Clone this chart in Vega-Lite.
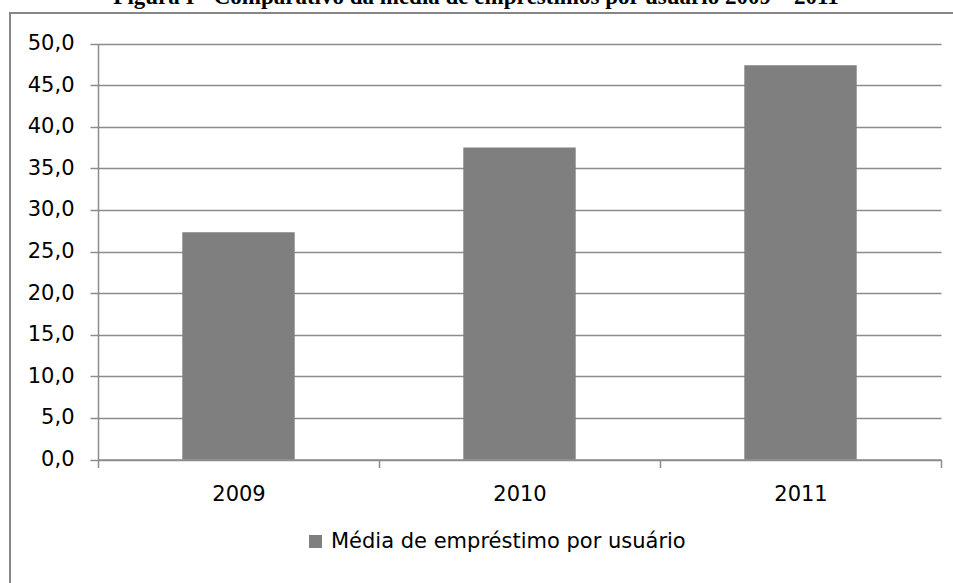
{
  "$schema": "https://vega.github.io/schema/vega-lite/v6.json",
  "autosize": "none",
  "padding": {"left": 10, "top": 13, "right": -3, "bottom": -3},
  "width": 946,
  "height": 573,
  "background": "white",
  "title": {
    "text": "Figura I - Comparativo da média de empréstimos por usuário 2009 – 2011",
    "font": "Liberation Serif",
    "fontSize": 23,
    "fontWeight": "bold",
    "color": "#000000",
    "anchor": "middle",
    "frame": "group",
    "baseline": "alphabetic",
    "offset": 3,
    "dx": -7,
    "dy": 17
  },
  "data": {
    "values": [
      {"ano": "2009", "media": 27.3, "serie": "Média de empréstimo por usuário"},
      {"ano": "2010", "media": 37.5, "serie": "Média de empréstimo por usuário"},
      {"ano": "2011", "media": 47.4, "serie": "Média de empréstimo por usuário"}
    ]
  },
  "mark": {"type": "bar", "width": {"band": 0.4}},
  "encoding": {
    "x": {
      "field": "ano",
      "type": "nominal",
      "scale": {"range": [88, 931], "paddingInner": 0, "paddingOuter": 0},
      "axis": {
        "title": null,
        "orient": "bottom",
        "offset": -126.5,
        "labelAngle": 0,
        "labelFont": "DejaVu Sans",
        "labelFontSize": 21,
        "labelColor": "#000000",
        "labelPadding": 16,
        "tickBand": "extent",
        "tickSize": 8,
        "tickColor": "#8c8c8c",
        "tickWidth": 1.5,
        "domainColor": "#8c8c8c",
        "domainWidth": 1.5,
        "grid": false
      }
    },
    "y": {
      "field": "media",
      "type": "quantitative",
      "scale": {"domain": [0, 50], "range": [446.5, 30.5], "nice": false, "zero": true},
      "axis": {
        "title": null,
        "offset": -88,
        "values": [0, 5, 10, 15, 20, 25, 30, 35, 40, 45, 50],
        "labelExpr": "replace(format(datum.value, '.1f'), '.', ',')",
        "labelFont": "DejaVu Sans",
        "labelFontSize": 21,
        "labelColor": "#000000",
        "labelPadding": 16,
        "tickSize": 8,
        "tickColor": "#8c8c8c",
        "tickWidth": 1.5,
        "domainColor": "#8c8c8c",
        "domainWidth": 1.5,
        "grid": true,
        "gridColor": "#8c8c8c",
        "gridWidth": 1.5
      }
    },
    "color": {
      "field": "serie",
      "type": "nominal",
      "scale": {"range": ["#7f7f7f"]},
      "legend": {
        "title": null,
        "orient": "none",
        "legendX": 295,
        "legendY": 518,
        "padding": 0,
        "symbolType": "square",
        "symbolSize": 169,
        "symbolStrokeWidth": 0,
        "symbolOpacity": 1,
        "labelFont": "DejaVu Sans",
        "labelFontSize": 21,
        "labelColor": "#000000",
        "labelOffset": 5,
        "labelLimit": 600
      }
    }
  },
  "config": {
    "view": {"stroke": "#868686", "strokeWidth": 2, "fill": "white"}
  }
}
